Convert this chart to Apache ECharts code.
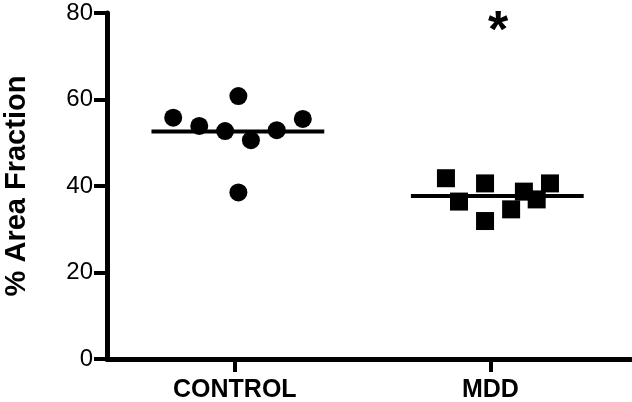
<!DOCTYPE html>
<html>
<head>
<meta charset="utf-8">
<script src="https://cdn.jsdelivr.net/npm/echarts@6/dist/echarts.min.js"></script>
<style>
  html, body { margin: 0; padding: 0; background: #fff; }
  #chart { width: 632px; height: 402px; }
</style>
</head>
<body>
<div id="chart"></div>
<script>
// 数据
const categories = ['CONTROL', 'MDD'];
const yTicks = [0, 20, 40, 60, 80];
const controlValues = [55.8, 53.9, 60.8, 52.7, 50.6, 52.9, 55.5, 38.5];
const controlJitter = [0.759, 0.861, 1.014, 0.962, 1.063, 1.164, 1.266, 1.014];
const mddValues = [41.8, 36.4, 40.6, 31.9, 34.6, 38.7, 36.9, 40.6];
const mddJitter = [1.826, 1.877, 1.979, 1.979, 2.081, 2.131, 2.181, 2.233];
const significance = '*';

const font = '"Liberation Sans", Arial, sans-serif';

function mean(arr) {
  return arr.reduce((a, b) => a + b, 0) / arr.length;
}

function pairs(xs, ys) {
  return ys.map((y, i) => [xs[i], y]);
}

// 均值线：以组中心为中点
function meanLine(center, values) {
  const m = mean(values);
  return [[center - 0.338, m], [center + 0.338, m]];
}

const chart = echarts.init(document.getElementById('chart'), null, { renderer: 'canvas' });

const option = {
  animation: false,
  backgroundColor: '#fff',
  grid: { left: 107, right: 1, top: 13, bottom: 43, containLabel: false, outerBoundsMode: 'none' },
  xAxis: {
    type: 'value',
    min: 0.5,
    max: 2.55,
    splitLine: { show: false },
    axisLine: { show: true, onZero: false, lineStyle: { color: '#000', width: 5 } },
    axisTick: { show: true, customValues: [1, 2], length: 13, lineStyle: { color: '#000', width: 4 } },
    axisLabel: {
      customValues: [1, 2],
      formatter: (v) => categories[Math.round(v) - 1] || '',
      color: '#000',
      fontFamily: font,
      fontWeight: 'bold',
      fontSize: 25,
      margin: 19,
    },
  },
  yAxis: {
    type: 'value',
    min: yTicks[0],
    max: yTicks[yTicks.length - 1],
    interval: 20,
    name: '% Area Fraction',
    nameLocation: 'middle',
    nameGap: 76,
    nameTextStyle: { color: '#000', fontFamily: font, fontWeight: 'bold', fontSize: 29 },
    splitLine: { show: false },
    axisLine: { show: true, lineStyle: { color: '#000', width: 5 } },
    axisTick: { show: true, length: 13, lineStyle: { color: '#000', width: 4 } },
    axisLabel: { color: '#000', fontFamily: font, fontSize: 24, margin: 14 },
  },
  series: [
    {
      type: 'scatter',
      data: pairs(controlJitter, controlValues),
      symbol: 'circle',
      symbolSize: 18,
      itemStyle: { color: '#000', opacity: 1 },
      z: 3,
    },
    {
      type: 'scatter',
      data: pairs(mddJitter, mddValues),
      symbol: 'rect',
      symbolSize: 18,
      itemStyle: { color: '#000', opacity: 1 },
      z: 3,
    },
    {
      type: 'line',
      data: meanLine(1.012, controlValues),
      symbol: 'none',
      lineStyle: { color: '#000', width: 4 },
      z: 4,
    },
    {
      type: 'line',
      data: meanLine(2.027, mddValues),
      symbol: 'none',
      lineStyle: { color: '#000', width: 4 },
      z: 4,
    },
    {
      type: 'scatter',
      data: [[2.03, 78.4]],
      symbolSize: 0,
      itemStyle: { color: '#000', opacity: 1 },
      label: {
        show: true,
        position: 'inside',
        formatter: significance,
        color: '#000',
        fontFamily: font,
        fontWeight: 'bold',
        fontSize: 52,
        offset: [0, 13],
      },
      z: 5,
    },
  ],
};

chart.setOption(option);
</script>
</body>
</html>
